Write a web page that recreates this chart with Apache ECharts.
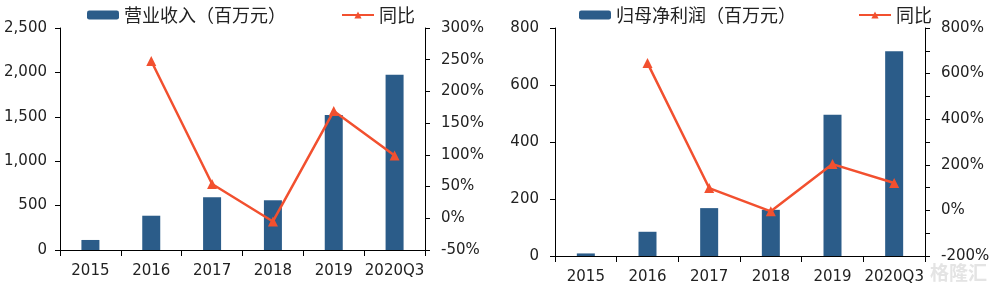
<!DOCTYPE html>
<html>
<head>
<meta charset="utf-8">
<script src="https://cdn.jsdelivr.net/npm/echarts@6/dist/echarts.min.js"></script>
<style>
html,body{margin:0;padding:0;background:#fff;}
#c{width:1000px;height:288px;}
</style>
</head>
<body>
<div id="c"></div>
<script>
const categories = ['2015', '2016', '2017', '2018', '2019', '2020Q3'];
const revenue = [113, 386, 593, 560, 1520, 1974];
const revenueYoY = [null, 248, 54, -5, 169, 99];
const profit = [9, 85, 168, 162, 496, 718];
const profitYoY = [null, 646, 98, -4, 203, 120];

const barName1 = '营业收入（百万元）';
const barName2 = '归母净利润（百万元）';
const lineName = '同比';

const BAR = '#2B5C89';
const LINE = '#F2502F';
const NUM_FONT = 'DejaVu Sans';
const CJK_FONT = 'Noto Sans CJK SC';

const chart = echarts.init(document.getElementById('c'), null, {renderer: 'canvas'});

const axisLine = {show: true, lineStyle: {color: '#000', width: 1}};
const axisTick = {show: true, length: 5, lineStyle: {color: '#000'}};
const lbl = {color: '#222', fontSize: 15, fontFamily: NUM_FONT};

function legend(name, left) {
  return {
    data: [name], left: left, top: 1, itemWidth: 32, itemHeight: 9, itemGap: 4,
    textStyle: {fontSize: 18, fontFamily: CJK_FONT, color: '#222'},
    selectedMode: false
  };
}

chart.setOption({
  animation: false,
  backgroundColor: '#fff',
  legend: [
    legend(barName1, 82),
    legend(lineName, 336),
    legend(barName2, 574),
    legend(lineName, 853)
  ],
  grid: [
    {left: 60, top: 28, width: 365, height: 222},
    {left: 555, top: 28, width: 370, height: 228}
  ],
  xAxis: [
    {type: 'category', gridIndex: 0, data: categories, boundaryGap: true,
     axisLine: axisLine, axisTick: {show: true, length: 6, interval: 0, lineStyle: {color: '#000'}},
     axisLabel: Object.assign({margin: 14, interval: 0}, lbl)},
    {type: 'category', gridIndex: 1, data: categories, boundaryGap: true,
     axisLine: axisLine, axisTick: {show: true, length: 6, interval: 0, lineStyle: {color: '#000'}},
     axisLabel: Object.assign({margin: 14, interval: 0}, lbl)}
  ],
  yAxis: [
    {type: 'value', gridIndex: 0, min: 0, max: 2500, interval: 500, position: 'left',
     axisLine: axisLine, axisTick: axisTick, splitLine: {show: false},
     axisLabel: Object.assign({margin: 13, formatter: v => v.toLocaleString('en-US')}, lbl)},
    {type: 'value', gridIndex: 0, min: -50, max: 300, interval: 50, position: 'right',
     axisLine: axisLine, axisTick: axisTick, splitLine: {show: false},
     axisLabel: Object.assign({margin: 16, formatter: v => v + '%'}, lbl)},
    {type: 'value', gridIndex: 1, min: 0, max: 800, interval: 200, position: 'left',
     axisLine: axisLine, axisTick: axisTick, splitLine: {show: false},
     axisLabel: Object.assign({margin: 16}, lbl)},
    {type: 'value', gridIndex: 1, min: -200, max: 800, interval: 100, position: 'right',
     axisLine: axisLine, axisTick: axisTick, splitLine: {show: false},
     axisLabel: Object.assign({margin: 16, showMinLabel: true, showMaxLabel: true,
       formatter: v => (v % 200 === 0 ? v + '%' : '')}, lbl)}
  ],
  series: [
    {name: barName1, type: 'bar', xAxisIndex: 0, yAxisIndex: 0, data: revenue,
     barWidth: 18, itemStyle: {color: BAR}},
    {name: lineName, type: 'line', xAxisIndex: 0, yAxisIndex: 1, data: revenueYoY,
     symbol: 'triangle', symbolSize: 10, connectNulls: false,
     lineStyle: {color: LINE, width: 2.5}, itemStyle: {color: LINE}},
    {name: barName2, type: 'bar', xAxisIndex: 1, yAxisIndex: 2, data: profit,
     barWidth: 18, itemStyle: {color: BAR}},
    {name: lineName, type: 'line', xAxisIndex: 1, yAxisIndex: 3, data: profitYoY,
     symbol: 'triangle', symbolSize: 10, connectNulls: false,
     lineStyle: {color: LINE, width: 2.5}, itemStyle: {color: LINE}}
  ],
  graphic: [
    {type: 'text', left: 930, top: 263,
     style: {text: '格隆汇', fill: '#e4e4e4', fontSize: 19, fontFamily: CJK_FONT, fontWeight: 'bold'}}
  ]
});
</script>
</body>
</html>
